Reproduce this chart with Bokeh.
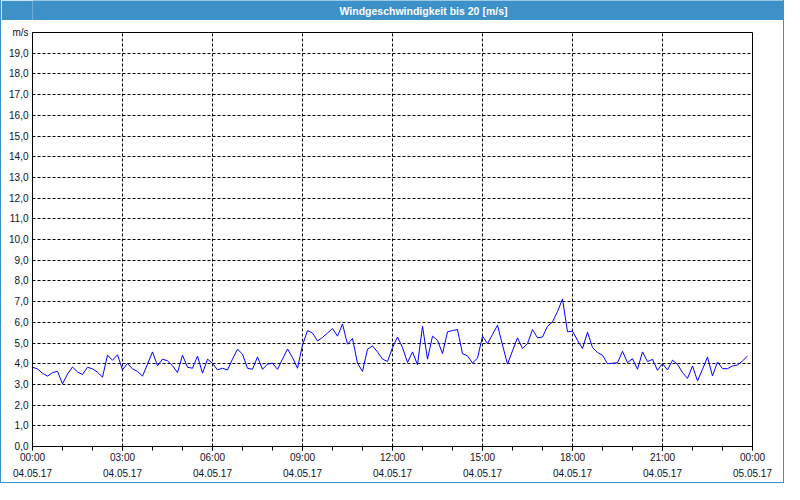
from datetime import datetime, timedelta
import pandas as pd
from bokeh.plotting import figure
from bokeh.layouts import column
from bokeh.models import (ColumnDataSource, Range1d, FixedTicker, DatetimeTickFormatter, Label)
from bokeh.embed import file_html
from bokeh.resources import INLINE

title_text = "Windgeschwindigkeit bis 20 [m/s]"
start_time = datetime(2017, 5, 4, 0, 0)
end_time = datetime(2017, 5, 5, 0, 0)
step_minutes = 10

wind_speed = [
    3.83, 3.75, 3.54, 3.40, 3.57, 3.63, 3.03, 3.50, 3.84, 3.60, 3.48, 3.83, 3.75, 3.59, 3.35,
    4.41, 4.17, 4.43, 3.70, 4.02, 3.75, 3.63, 3.40, 3.98, 4.57, 3.90, 4.22, 4.14, 3.90, 3.57,
    4.41, 3.83, 3.78, 4.37, 3.54, 4.22, 4.02, 3.70, 3.78, 3.70, 4.22, 4.70, 4.46, 3.78, 3.73,
    4.33, 3.73, 3.98, 4.02, 3.73, 4.22, 4.71, 4.30, 3.78, 4.90, 5.60, 5.48, 5.10, 5.27,
    5.48, 5.70, 5.33, 5.92, 4.94, 5.22, 4.02, 3.63, 4.70, 4.86, 4.57, 4.22, 4.11, 4.78, 5.29,
    4.78, 4.06, 4.57, 3.95, 5.81, 4.22, 5.33, 5.13, 4.49, 5.54, 5.60, 5.65, 4.48, 4.38,
    4.03, 4.27, 5.33, 4.97, 5.41, 5.86, 4.90, 3.98, 4.62, 5.25, 4.73, 4.97, 5.65, 5.25,
    5.29, 5.81, 6.02, 6.52, 7.13, 5.54, 5.57, 5.13, 4.73, 5.52, 4.78, 4.54, 4.41, 4.00,
    4.02, 4.05, 4.60, 4.05, 4.24, 3.73, 4.57, 4.10, 4.21, 3.68, 4.00, 3.70, 4.17, 3.97,
    3.57, 3.29, 3.89, 3.17, 3.73, 4.32, 3.41, 4.08, 3.76, 3.76, 3.89, 3.94, 4.13, 4.37,
]
times = list(pd.date_range(start_time, periods=len(wind_speed), freq=f"{step_minutes}min"))

y_ticks = list(range(0, 21))
y_labels = {v: f"{v},0" for v in range(0, 20)}
y_labels[20] = "m/s"
major_hours = list(range(0, 25, 3))
minor_hours = list(range(0, 25, 1))

FONT = "Liberation Sans"
BLUE = "#3d91c9"

def ms(h):
    return (start_time + timedelta(hours=h) - datetime(1970, 1, 1)).total_seconds() * 1000.0

source = ColumnDataSource(data=dict(t=times, v=wind_speed))

p = figure(frame_width=720, frame_height=414, output_backend="svg", toolbar_location=None,
           x_axis_type="datetime",
           x_range=Range1d(start_time, end_time), y_range=Range1d(0, 20),
           min_border_left=31, min_border_right=31, min_border_top=12, min_border_bottom=36,
           background_fill_color="white", border_fill_color="white")
p.outline_line_color = "black"
p.outline_line_width = 1

p.line("t", "v", source=source, line_color="#0000ff", line_width=1)

fmt = "%H:%M\n%d.%m.%y"
p.xaxis.ticker = FixedTicker(ticks=[ms(h) for h in major_hours], minor_ticks=[ms(h) for h in minor_hours])
p.xaxis.formatter = DatetimeTickFormatter(milliseconds=fmt, seconds=fmt, minsec=fmt, minutes=fmt,
                                          hourmin=fmt, hours=fmt, days=fmt, months=fmt, years=fmt)
p.xaxis.major_tick_in = 0
p.xaxis.major_tick_out = 4
p.xaxis.minor_tick_in = 0
p.xaxis.minor_tick_out = 4
p.xaxis.major_label_standoff = 1
p.xaxis.major_label_text_line_height = 1.5

p.yaxis.ticker = FixedTicker(ticks=y_ticks)
p.yaxis.major_label_overrides = y_labels
p.yaxis.major_tick_in = 0
p.yaxis.major_tick_out = 0
p.yaxis.minor_tick_line_color = None
p.yaxis.major_label_standoff = 4

for ax in (p.xaxis, p.yaxis):
    ax.axis_line_color = "black"
    ax.major_tick_line_color = "black"
    ax.major_label_text_font = FONT
    ax.major_label_text_font_size = "10px"
    ax.major_label_text_color = "#111122"
p.xaxis.minor_tick_line_color = "black"

p.xgrid.ticker = FixedTicker(ticks=[ms(h) for h in major_hours])
p.ygrid.ticker = FixedTicker(ticks=y_ticks)
for g in (p.xgrid, p.ygrid):
    g.grid_line_color = "black"
    g.grid_line_dash = "3 2"
    g.grid_line_width = 1

t = figure(frame_width=782, frame_height=20, output_backend="svg", toolbar_location=None,
           x_range=Range1d(0, 1), y_range=Range1d(0, 1),
           min_border=0, background_fill_color=BLUE, border_fill_color=BLUE)
t.axis.visible = False
t.grid.visible = False
t.outline_line_color = None
t.add_layout(Label(x=391, y=10, x_units="screen", y_units="screen", text=title_text,
                   text_align="center", text_baseline="middle", text_color="white",
                   text_font=FONT, text_font_size="10.5px", text_font_style="bold"))

layout = column(t, p, spacing=0, styles={"border-left": f"1px solid {BLUE}",
                                          "border-right": f"1px solid {BLUE}",
                                          "border-bottom": f"1px solid {BLUE}"})

open("out.html", "w").write(file_html(layout, INLINE))
